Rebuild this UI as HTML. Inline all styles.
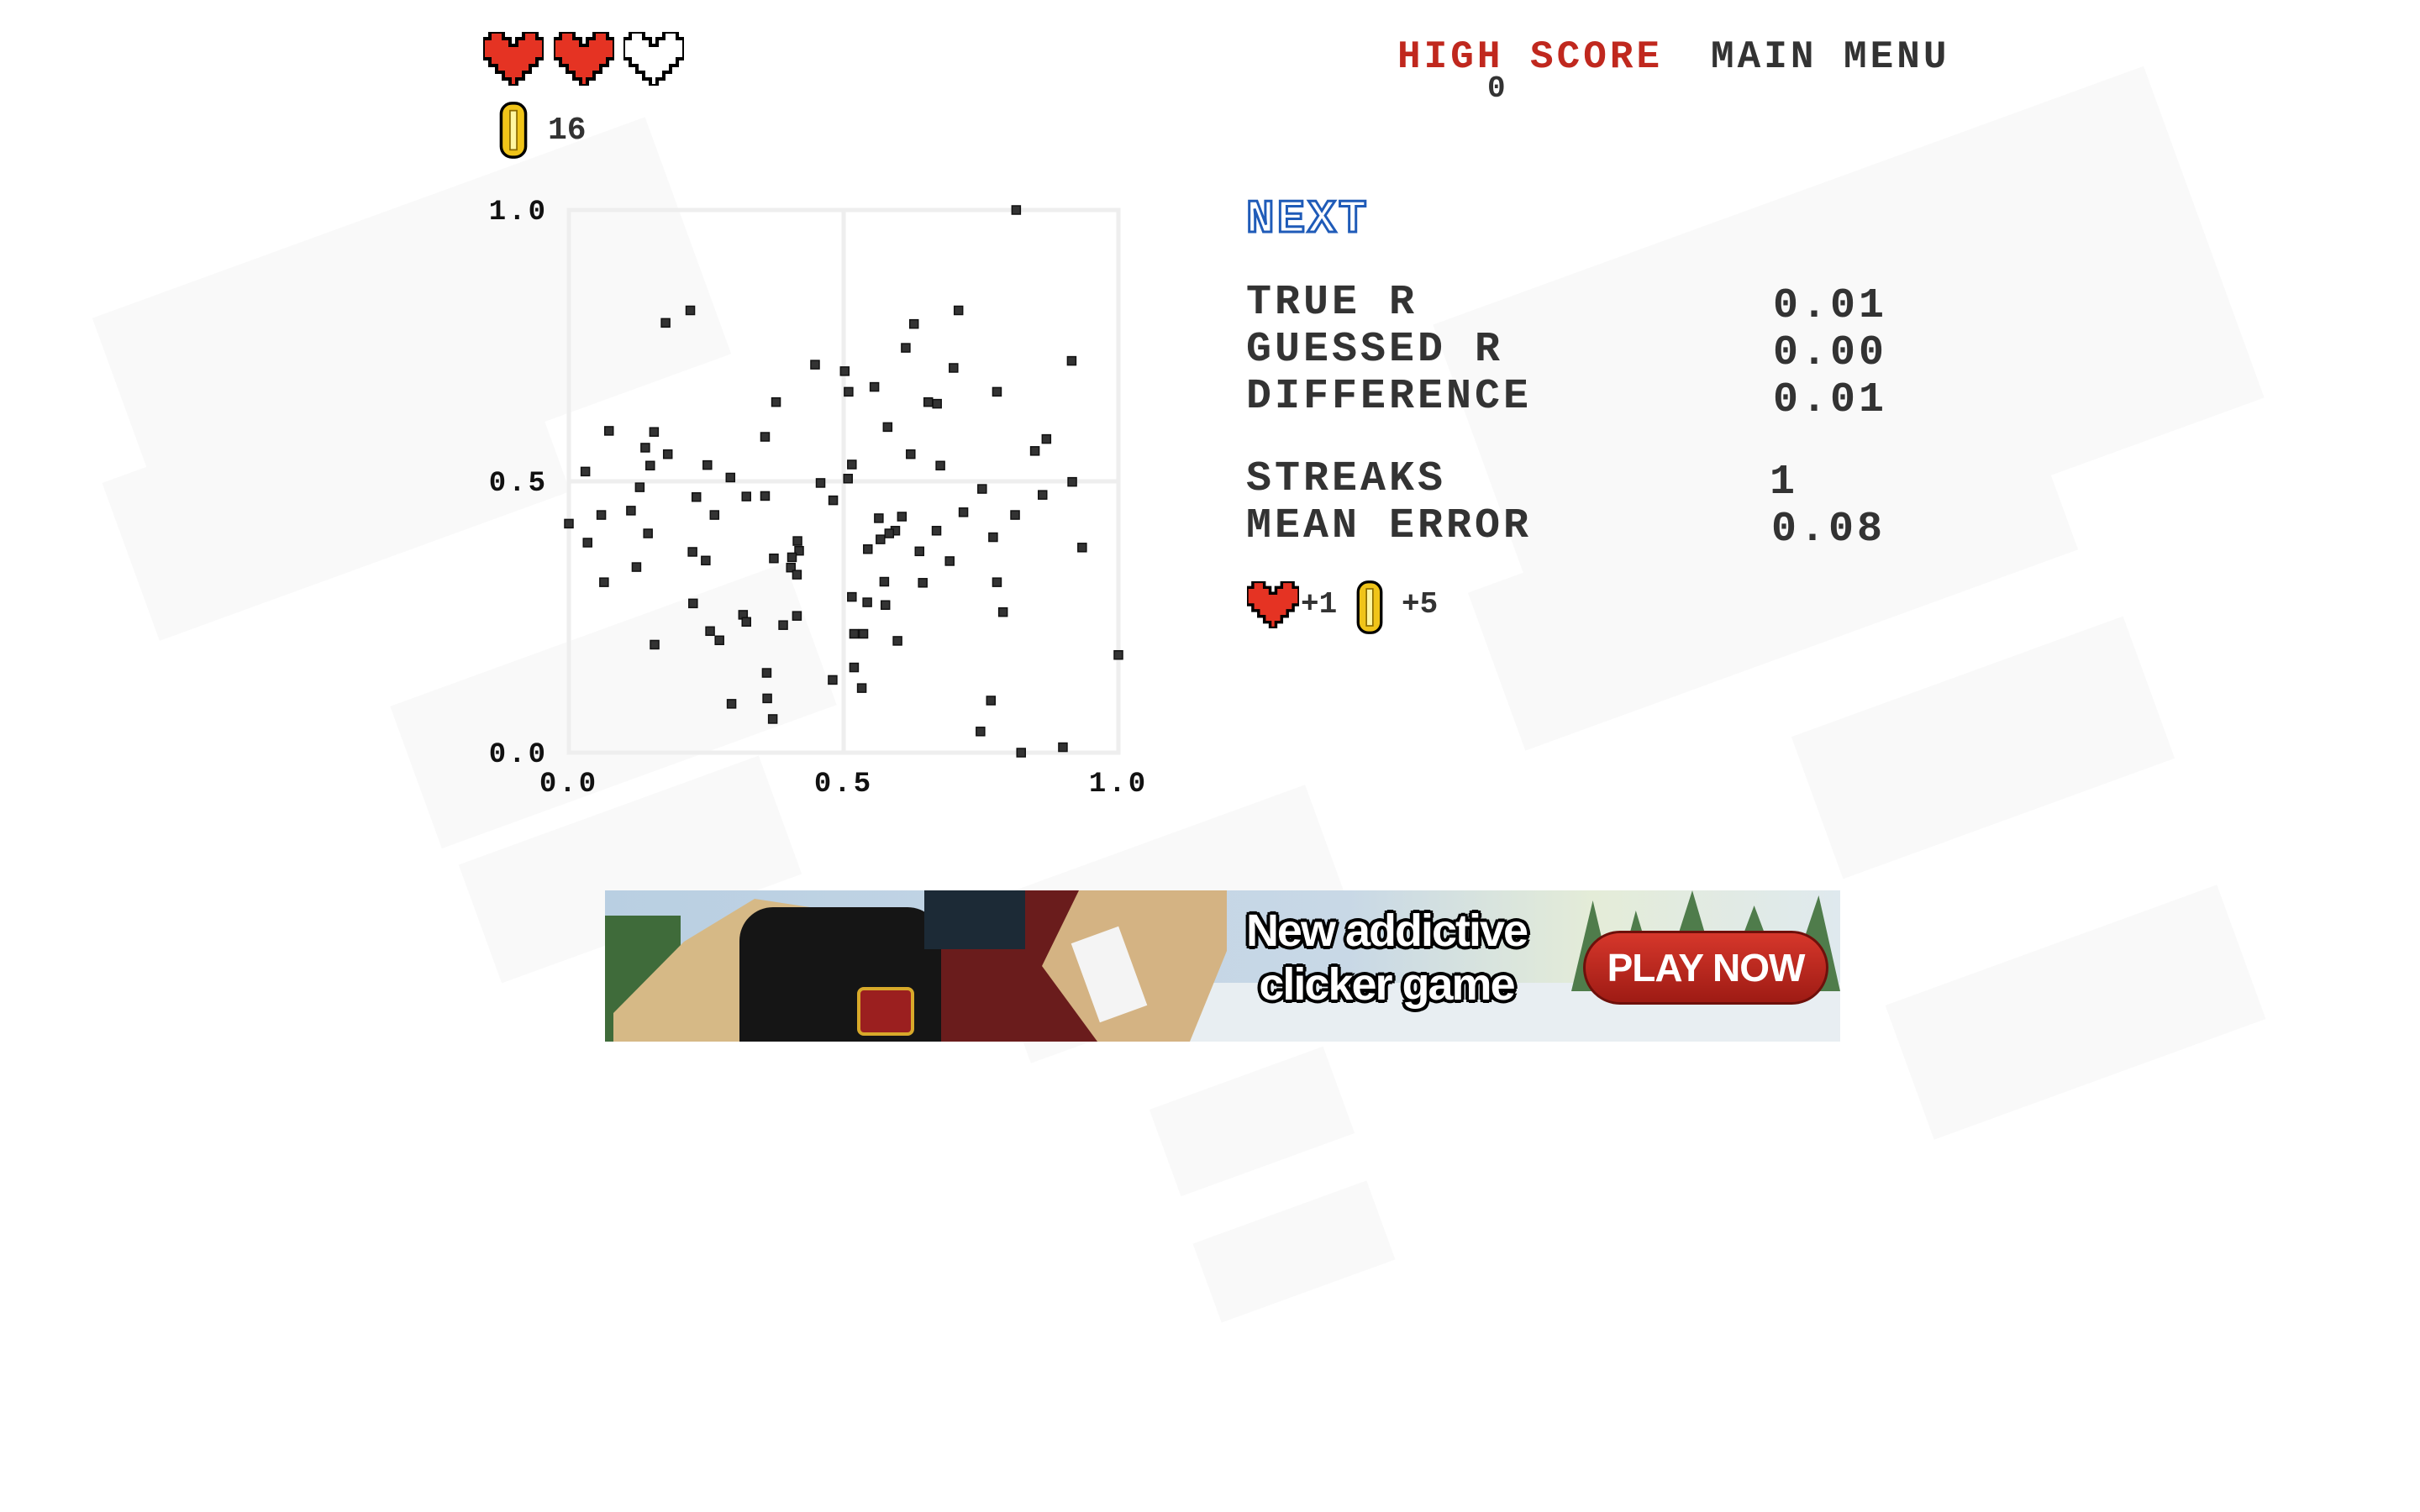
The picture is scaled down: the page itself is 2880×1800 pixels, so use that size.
<!DOCTYPE html>
<html><head><meta charset="utf-8"><style>
html,body{margin:0;padding:0;width:2880px;height:1800px;overflow:hidden;background:#fff;position:relative;font-family:"Liberation Mono",monospace;}
.bg{position:absolute;background:#f9f9f9;}
.t{position:absolute;font-weight:bold;color:#333;white-space:nowrap;line-height:1;}
.lbl{font-size:50px;letter-spacing:4px;}
</style></head><body>
<div class="bg" style="left:140px;top:250px;width:700px;height:300px;transform:rotate(-20deg)"></div>
<div class="bg" style="left:140px;top:480px;width:520px;height:200px;transform:rotate(-20deg)"></div>
<div class="bg" style="left:480px;top:750px;width:500px;height:180px;transform:rotate(-20deg)"></div>
<div class="bg" style="left:560px;top:960px;width:380px;height:150px;transform:rotate(-20deg)"></div>
<div class="bg" style="left:1750px;top:220px;width:900px;height:420px;transform:rotate(-20deg)"></div>
<div class="bg" style="left:1760px;top:580px;width:700px;height:200px;transform:rotate(-20deg)"></div>
<div class="bg" style="left:2150px;top:800px;width:420px;height:180px;transform:rotate(-20deg)"></div>
<div class="bg" style="left:2260px;top:1120px;width:420px;height:170px;transform:rotate(-20deg)"></div>
<div class="bg" style="left:1180px;top:1000px;width:420px;height:200px;transform:rotate(-20deg)"></div>
<div class="bg" style="left:1380px;top:1280px;width:220px;height:110px;transform:rotate(-20deg)"></div>
<div class="bg" style="left:1430px;top:1440px;width:220px;height:100px;transform:rotate(-20deg)"></div>

<svg width="0" height="0" style="position:absolute"><defs>
<symbol id="heart" viewBox="0 0 9 8"><path d="M1 0h2v1h1v1h1V1h1V0h2v1h1v3H8v1H7v1H6v1H5v1H4V7H3V6H2V5H1V4H0V1h1z" fill="currentColor" stroke="#000" stroke-width="0.5"/></symbol>
<symbol id="coin" viewBox="0 0 6 12"><rect x="0.5" y="0.5" width="5" height="11" rx="2.2" fill="#f0c419" stroke="#000" stroke-width="0.6"/><rect x="2.3" y="2" width="1.4" height="8" fill="#fff6a0" stroke="#8a6a00" stroke-width="0.3"/></symbol>
</defs></svg>

<svg style="position:absolute;left:575px;top:38px;color:#e53323" width="72" height="64"><use href="#heart"/></svg>
<svg style="position:absolute;left:659px;top:38px;color:#e53323" width="72" height="64"><use href="#heart"/></svg>
<svg style="position:absolute;left:742px;top:38px;color:#fff" width="72" height="64"><use href="#heart"/></svg>
<svg style="position:absolute;left:585px;top:120px" width="52" height="70"><use href="#coin"/></svg>
<div class="t" style="left:652px;top:137px;font-size:38px;">16</div>

<div class="t lbl" style="left:1663px;top:45px;color:#c0281e;font-size:46px;">HIGH SCORE</div>
<div class="t lbl" style="left:2036px;top:45px;font-size:46px;">MAIN MENU</div>
<div class="t" style="left:1770px;top:88px;font-size:36px;">0</div>

<svg id="chart" style="position:absolute;left:0;top:0" width="1400" height="980"></svg>

<div class="t" style="left:1483px;top:233px;font-size:56px;color:#fff;-webkit-text-stroke:3px #1f5bb8;letter-spacing:3px;">NEXT</div>
<div class="t lbl" style="left:1483px;top:336px;">TRUE R</div>
<div class="t lbl" style="left:2110px;top:340px;">0.01</div>
<div class="t lbl" style="left:1483px;top:392px;">GUESSED R</div>
<div class="t lbl" style="left:2110px;top:396px;">0.00</div>
<div class="t lbl" style="left:1483px;top:448px;">DIFFERENCE</div>
<div class="t lbl" style="left:2110px;top:452px;">0.01</div>
<div class="t lbl" style="left:1483px;top:546px;">STREAKS</div>
<div class="t lbl" style="left:2106px;top:550px;">1</div>
<div class="t lbl" style="left:1483px;top:602px;">MEAN ERROR</div>
<div class="t lbl" style="left:2108px;top:606px;">0.08</div>

<svg style="position:absolute;left:1484px;top:692px;color:#e53323" width="62" height="56"><use href="#heart"/></svg>
<div class="t" style="left:1548px;top:702px;font-size:36px;">+1</div>
<svg style="position:absolute;left:1606px;top:690px" width="48" height="66"><use href="#coin"/></svg>
<div class="t" style="left:1668px;top:702px;font-size:36px;">+5</div>

<div style="position:absolute;left:720px;top:1060px;width:1470px;height:180px;overflow:hidden;background:linear-gradient(90deg,#b9cfe2 0%,#c8d8e6 60%,#e4ecd8 80%,#dfe9ee 100%);">
  <div style="position:absolute;left:0;top:110px;width:1470px;height:70px;background:#e8eef2"></div>
  <div style="position:absolute;left:0;top:30px;width:90px;height:150px;background:#3f6b3a"></div>
  <div style="position:absolute;left:1540px;top:0"></div>
  <div style="position:absolute;left:1150px;top:0;width:320px;height:120px;background:#4f7c4b;clip-path:polygon(0 100%,8% 10%,16% 100%,24% 20%,33% 100%,45% 0,56% 100%,68% 15%,80% 100%,92% 5%,100% 100%)"></div>
  <div style="position:absolute;left:10px;top:10px;width:280px;height:170px;background:#d6b986;clip-path:polygon(0 80%,30% 30%,60% 0,100% 10%,100% 100%,0 100%)"></div>
  <div style="position:absolute;left:160px;top:20px;width:240px;height:160px;background:#151515;border-radius:40px 40px 0 0"></div>
  <div style="position:absolute;left:300px;top:115px;width:60px;height:50px;background:#9b1f1f;border:4px solid #d8a92a;border-radius:8px"></div>
  <div style="position:absolute;left:400px;top:0;width:260px;height:180px;background:#6a1c1c"></div>
  <div style="position:absolute;left:380px;top:0;width:120px;height:70px;background:#1c2a36"></div>
  <div style="position:absolute;left:520px;top:0;width:220px;height:180px;background:#d4b383;clip-path:polygon(20% 0,100% 0,100% 40%,80% 100%,30% 100%,0 50%)"></div>
  <div style="position:absolute;left:570px;top:50px;width:60px;height:100px;background:#f4f4f4;transform:rotate(-20deg)"></div>
  <div style="position:absolute;left:740px;top:16px;width:380px;text-align:center;font-family:'Liberation Sans',sans-serif;font-weight:bold;font-size:54px;line-height:64px;color:#fff;letter-spacing:-2px;text-shadow:-4px 0 #000,4px 0 #000,0 -4px #000,0 4px #000,3px 3px #000,-3px -3px #000,3px -3px #000,-3px 3px #000;">New addictive<br>clicker game</div>
  <div style="position:absolute;left:1164px;top:48px;width:292px;height:88px;border-radius:44px;background:linear-gradient(#d6372b,#9e1b14);border:3px solid #6e100b;box-sizing:border-box;color:#fff;font-family:'Liberation Sans',sans-serif;font-weight:bold;font-size:46px;line-height:82px;text-align:center;letter-spacing:-1px;">PLAY NOW</div>
</div>

<script>
const xTicks=[0,0.5,1];
const yTicks=[0,0.5,1];
const tickLabels=["0.0","0.5","1.0"];
const xs=[.814,.221,.176,.709,.628,.613,.915,.448,.502,.700,.509,.556,.779,.377,.654,.670,.580,.073,.155,.357,.869,.848,.139,.180,.622,.148,.252,.515,.676,.030,.294,.508,.458,.916,.129,.752,.232,.323,.357,.862,.481,.059,.113,.265,.718,.812,.564,.606,0,.144,.669,.594,.583,.567,.772,.034,.416,.419,.225,.249,.373,.406,.934,.544,.638,.693,.404,.415,.123,.064,.574,.644,.779,.515,.543,.576,.226,.790,.317,.323,.415,.390,.257,.274,.519,.536,.598,.156,1.0,.360,.519,.480,.533,.768,.296,.361,.371,.749,.823,.899];
const ys=[1.0,.815,.792,.815,.790,.746,.722,.715,.703,.709,.665,.674,.665,.646,.646,.643,.600,.593,.591,.582,.578,.556,.562,.550,.550,.529,.530,.531,.529,.518,.507,.505,.497,.499,.489,.486,.471,.472,.473,.475,.465,.438,.446,.438,.443,.438,.432,.435,.422,.404,.409,.409,.404,.393,.397,.387,.390,.372,.370,.354,.358,.360,.378,.375,.371,.353,.341,.328,.342,.314,.315,.313,.314,.287,.277,.272,.275,.259,.254,.241,.252,.235,.224,.207,.219,.219,.206,.199,.180,.147,.157,.134,.119,.096,.090,.100,.062,.039,0,.010];
const L=677,R=1331,T=250,B=896;
const sx=v=>L+v*(R-L), sy=v=>B-v*(B-T);
const svg=document.getElementById('chart');
const NS='http://www.w3.org/2000/svg';
function mk(tag,a){const e=document.createElementNS(NS,tag);for(const k in a)e.setAttribute(k,a[k]);svg.appendChild(e);return e;}
const frame=mk('rect',{x:L,y:T,width:R-L,height:B-T,fill:'none',stroke:'#eee','stroke-width':5});


const vl=mk('line',{x1:sx(0.5),x2:sx(0.5),y1:T,y2:B,stroke:'#eee','stroke-width':5});


const hl=mk('line',{x1:L,x2:R,y1:sy(0.5),y2:sy(0.5),stroke:'#eee','stroke-width':5});


xTicks.forEach((v,i)=>{
  const t=mk('text',{x:sx(v),y:B+46,'text-anchor':'middle','font-family':'Liberation Mono, monospace','font-weight':'bold','font-size':34,fill:'#111','letter-spacing':3});
  t.textContent=tickLabels[i];
  
  
});
yTicks.forEach((v,i)=>{
  const t=mk('text',{x:652,y:sy(v)+11,'text-anchor':'end','font-family':'Liberation Mono, monospace','font-weight':'bold','font-size':34,fill:'#111','letter-spacing':3});
  t.textContent=tickLabels[i];
  
  
});
xs.forEach((x,i)=>{
  const p=mk('rect',{x:sx(x)-5,y:sy(ys[i])-5,width:10,height:10,fill:'#333',stroke:'#111','stroke-width':1.5});
  
  
});
</script>
</body></html>
